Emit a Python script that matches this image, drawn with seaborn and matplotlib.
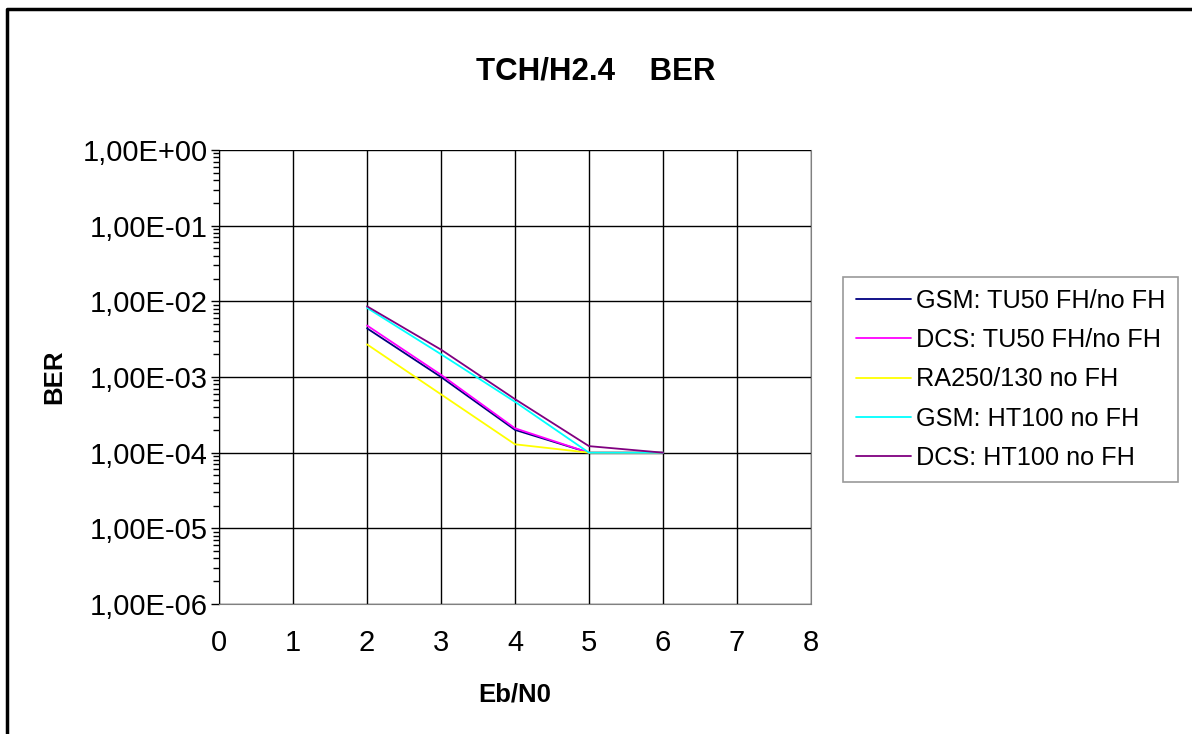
import numpy as np
import pandas as pd
import matplotlib
matplotlib.use("Agg")
import matplotlib.pyplot as plt
import matplotlib.ticker as mticker
from matplotlib.lines import Line2D
import seaborn as sns

# Data
ebn0 = [2, 3, 4, 5, 6]
gsm_tu50 = [4.4e-3, 1.0e-3, 2.0e-4, 1.0e-4, 1.0e-4]
dcs_tu50 = [4.8e-3, 1.07e-3, 2.1e-4, 1.0e-4, 1.0e-4]
ra250 = [2.7e-3, 5.9e-4, 1.29e-4, 1.0e-4, 1.0e-4]
gsm_ht100 = [8.2e-3, 2.0e-3, 4.7e-4, 1.0e-4, 1.0e-4]
dcs_ht100 = [8.6e-3, 2.3e-3, 5.1e-4, 1.22e-4, 1.0e-4]

series_names = ["GSM: TU50 FH/no FH", "DCS: TU50 FH/no FH", "RA250/130 no FH",
                "GSM: HT100 no FH", "DCS: HT100 no FH"]
series_vals = [gsm_tu50, dcs_tu50, ra250, gsm_ht100, dcs_ht100]
colors = ["#000080", "#FF00FF", "#FFFF00", "#00FFFF", "#800080"]

rows = []
for name, vals in zip(series_names, series_vals):
    for x, v in zip(ebn0, vals):
        rows.append({"Eb/N0": x, "BER": v, "series": name})
df = pd.DataFrame(rows)

sns.set_style("white")
plt.rcParams['font.family'] = ['Liberation Sans', 'DejaVu Sans']
plt.rcParams['text.color'] = 'black'
plt.rcParams['axes.labelcolor'] = 'black'
plt.rcParams['xtick.color'] = 'black'
plt.rcParams['ytick.color'] = 'black'

fig = plt.figure(figsize=(11.92, 7.34), dpi=100)
ax = fig.add_axes([219/1192, 1-604/734, (811-219)/1192, (604-150)/734])

sns.lineplot(data=df, x="Eb/N0", y="BER", hue="series", hue_order=series_names,
             palette=colors, linewidth=1.3, ax=ax, legend=False)

ax.set_yscale("log")
ax.set_ylim(1e-6, 1)
ax.set_xlim(0, 8)
ax.set_xticks(range(0, 9))
ax.yaxis.set_major_locator(mticker.LogLocator(base=10, numticks=10))
ax.yaxis.set_minor_locator(mticker.LogLocator(base=10, subs=np.arange(2, 10), numticks=10))
ax.yaxis.set_major_formatter(mticker.FuncFormatter(lambda v, p: f"{v:.2E}".replace('.', ',')))
ax.yaxis.set_minor_formatter(mticker.NullFormatter())

ax.grid(True, which="major", color="black", linewidth=1)
ax.tick_params(axis="y", which="major", direction="out", length=6, width=1, left=True,
               labelsize=21, pad=2, colors="black")
ax.tick_params(axis="y", which="minor", direction="out", length=4, width=1, left=True,
               colors="black")
ax.tick_params(axis="x", which="both", length=0, labelsize=21, pad=18, colors="black")

for side in ["top", "right", "bottom"]:
    ax.spines[side].set_color("#808080")
ax.spines["left"].set_color("black")
ax.spines["top"].set_visible(False)

ax.set_xlabel("Eb/N0", fontsize=18.5, fontweight="bold", labelpad=18, color="black")
ax.set_ylabel("BER", fontsize=18.5, fontweight="bold", labelpad=12, color="black")

fig.text(0.5, 1-71/734, "TCH/H2.4    BER", ha="center", va="center",
         fontsize=22.5, fontweight="bold", color="black")

handles = [Line2D([0], [0], color=c, linewidth=1.3) for c in colors]
leg = fig.legend(handles, series_names, loc="center left",
                 bbox_to_anchor=(843/1192, 1-379.5/734), fontsize=18.2,
                 frameon=True, fancybox=False, edgecolor="#808080",
                 handlelength=2.2, handletextpad=0.2, labelspacing=0.6,
                 borderpad=0.5, borderaxespad=0)
leg.get_frame().set_linewidth(1.2)
for t in leg.get_texts():
    t.set_color("black")

# outer chart frame
fig.add_artist(Line2D([7/1192, 7/1192, 1], [0, 1-9/734, 1-9/734],
                      transform=fig.transFigure, color="black", linewidth=2.5))

fig.savefig("out.png", dpi=100)
